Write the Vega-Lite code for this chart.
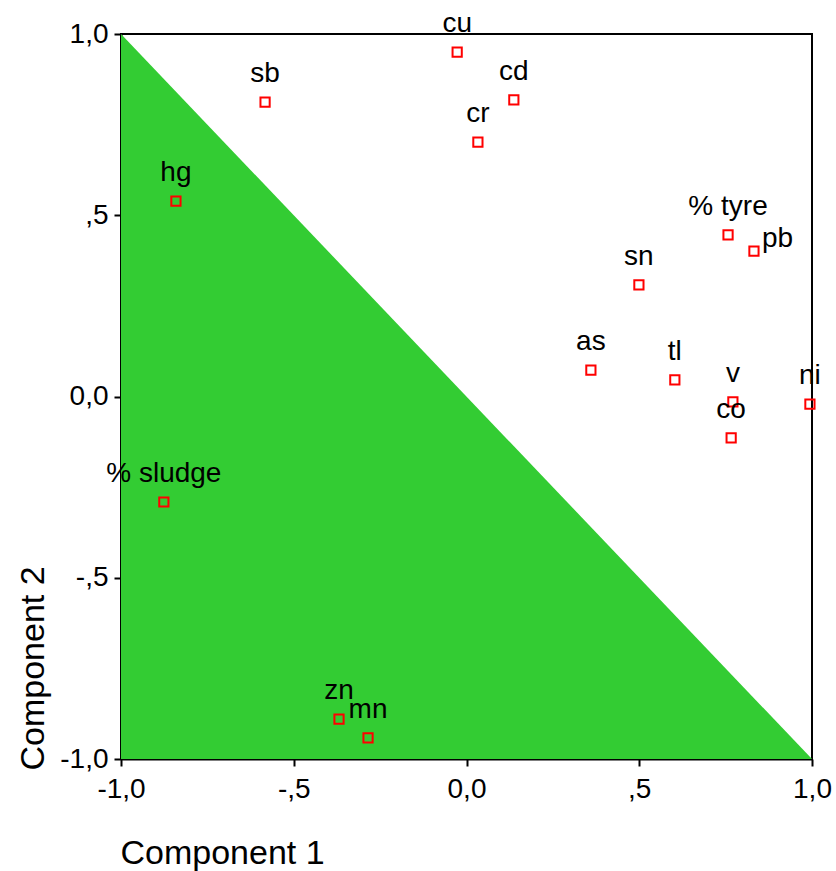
{
  "$schema": "https://vega.github.io/schema/vega-lite/v6.json",
  "autosize": {"type": "none"},
  "width": 691,
  "height": 725,
  "padding": {"left": 121, "top": 34, "right": 24, "bottom": 112},
  "background": "white",
  "config": {
    "view": {"stroke": "black", "strokeWidth": 2},
    "font": "Liberation Sans",
    "axis": {
      "grid": false,
      "domainColor": "black",
      "domainWidth": 2,
      "tickColor": "black",
      "tickWidth": 2,
      "tickSize": 7,
      "labelColor": "black",
      "labelFont": "Liberation Sans",
      "labelFontSize": 28,
      "titleFont": "Liberation Sans",
      "titleFontSize": 34,
      "titleFontWeight": "normal",
      "titleColor": "black",
      "zindex": 1
    }
  },
  "datasets": {
    "tri": [{"x": -1, "y": 1}, {"x": 1, "y": -1}],
    "pts": [
      {"label": "cu", "c1": -0.027, "c2": 0.950},
      {"label": "sb", "c1": -0.583, "c2": 0.812},
      {"label": "cd", "c1": 0.137, "c2": 0.818},
      {"label": "cr", "c1": 0.033, "c2": 0.702},
      {"label": "hg", "c1": -0.841, "c2": 0.539},
      {"label": "% tyre", "c1": 0.757, "c2": 0.446},
      {"label": "pb", "c1": 0.832, "c2": 0.401},
      {"label": "sn", "c1": 0.499, "c2": 0.308},
      {"label": "as", "c1": 0.360, "c2": 0.073},
      {"label": "tl", "c1": 0.603, "c2": 0.046},
      {"label": "v", "c1": 0.771, "c2": -0.015},
      {"label": "ni", "c1": 0.994, "c2": -0.021},
      {"label": "co", "c1": 0.766, "c2": -0.114},
      {"label": "% sludge", "c1": -0.876, "c2": -0.291},
      {"label": "zn", "c1": -0.369, "c2": -0.890},
      {"label": "mn", "c1": -0.285, "c2": -0.942}
    ]
  },
  "layer": [
    {
      "data": {"name": "tri"},
      "mark": {"type": "area", "color": "#33cc33", "opacity": 1},
      "encoding": {
        "x": {
          "field": "x", "type": "quantitative",
          "scale": {"domain": [-1, 1], "nice": false, "zero": false},
          "axis": {
            "values": [-1, -0.5, 0, 0.5, 1],
            "labelExpr": "datum.value==1?'1,0':datum.value==0.5?',5':datum.value==0?'0,0':datum.value==-0.5?'-,5':'-1,0'",
            "labelPadding": 9,
            "labelFlush": false,
            "title": "Component 1",
            "titleAnchor": "start",
            "titleAlign": "left",
            "titleBaseline": "alphabetic",
            "titleX": -1,
            "titleY": 104
          }
        },
        "y": {
          "field": "y", "type": "quantitative",
          "scale": {"domain": [-1, 1], "nice": false, "zero": false},
          "axis": {
            "values": [-1, -0.5, 0, 0.5, 1],
            "labelExpr": "datum.value==1?'1,0':datum.value==0.5?',5':datum.value==0?'0,0':datum.value==-0.5?'-,5':'-1,0'",
            "labelPadding": 6,
            "labelFlush": false,
            "title": "Component 2",
            "titleAngle": -90,
            "titleAnchor": "start",
            "titleAlign": "left",
            "titleBaseline": "alphabetic",
            "titleX": -78,
            "titleY": 736
          }
        },
        "y2": {"datum": -1}
      }
    },
    {
      "mark": {"type": "rule", "color": "black", "strokeWidth": 2},
      "encoding": {"x": {"datum": 0, "type": "quantitative"}}
    },
    {
      "mark": {"type": "rule", "color": "black", "strokeWidth": 2},
      "encoding": {"y": {"datum": 0, "type": "quantitative"}}
    },
    {
      "data": {"name": "pts"},
      "mark": {"type": "point", "shape": "square", "filled": false, "color": "#ff0000", "strokeWidth": 2, "size": 85, "opacity": 1},
      "encoding": {
        "x": {"field": "c1", "type": "quantitative"},
        "y": {"field": "c2", "type": "quantitative"}
      }
    },
    {
      "data": {"name": "pts"},
      "transform": [{"filter": "datum.label != 'pb'"}],
      "mark": {"type": "text", "fontSize": 28, "color": "black", "baseline": "alphabetic", "align": "center", "dy": -20},
      "encoding": {
        "x": {"field": "c1", "type": "quantitative"},
        "y": {"field": "c2", "type": "quantitative"},
        "text": {"field": "label"}
      }
    },
    {
      "data": {"name": "pts"},
      "transform": [{"filter": "datum.label == 'pb'"}],
      "mark": {"type": "text", "fontSize": 28, "color": "black", "baseline": "alphabetic", "align": "left", "dx": 8, "dy": -4},
      "encoding": {
        "x": {"field": "c1", "type": "quantitative"},
        "y": {"field": "c2", "type": "quantitative"},
        "text": {"field": "label"}
      }
    }
  ]
}
